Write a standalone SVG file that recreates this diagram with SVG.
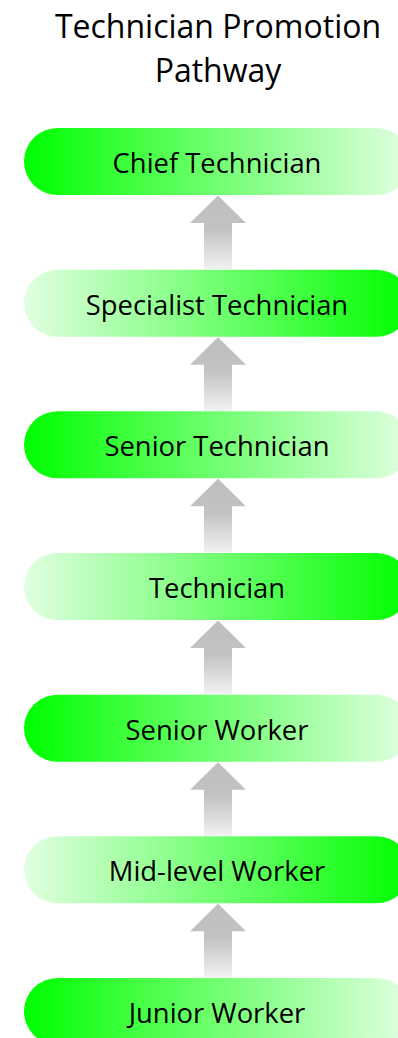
<svg xmlns="http://www.w3.org/2000/svg" width="398" height="1038" viewBox="0 0 398 1038">
<defs>
<linearGradient id="gL" x1="0" y1="0" x2="1" y2="0">
<stop offset="0" stop-color="#00ff00"/>
<stop offset="1" stop-color="#e2ffe2"/>
</linearGradient>
<linearGradient id="gR" x1="0" y1="0" x2="1" y2="0">
<stop offset="0" stop-color="#e2ffe2"/>
<stop offset="1" stop-color="#00ff00"/>
</linearGradient>
<linearGradient id="gA" x1="0" y1="0" x2="0" y2="1">
<stop offset="0" stop-color="#bfbfbf"/>
<stop offset="0.45" stop-color="#c2c2c2"/>
<stop offset="1" stop-color="#f2f2f2"/>
</linearGradient>
<path id="arrow" d="M218 0 L246 27.5 L232 27.5 L232 74 L204 74 L204 27.5 L190 27.5 Z" fill="url(#gA)"/>
</defs>
<style>
.t{font-family:"Open Sans","DejaVu Sans",sans-serif;fill:#000;text-anchor:middle}
.n{font-size:27.4px}
.h{font-size:32px}
</style>
<g id="title">
<text class="t h" x="218" y="38">Technician Promotion</text>
<text class="t h" x="218" y="82">Pathway</text>
</g>
<g id="connectors">
<use href="#arrow" y="195.5"/>
<use href="#arrow" y="337.2"/>
<use href="#arrow" y="478.8"/>
<use href="#arrow" y="620.5"/>
<use href="#arrow" y="762.2"/>
<use href="#arrow" y="903.8"/>
</g>
<g id="chief">
<rect x="24" y="128" width="386" height="67" rx="33.5" fill="url(#gL)"/>
<text class="t n" x="217" y="173">Chief Technician</text>
</g>
<g id="specialist">
<rect x="24" y="269.7" width="386" height="67" rx="33.5" fill="url(#gR)"/>
<text class="t n" x="217" y="314.7">Specialist Technician</text>
</g>
<g id="senior-technician">
<rect x="24" y="411.3" width="386" height="67" rx="33.5" fill="url(#gL)"/>
<text class="t n" x="217" y="456.3">Senior Technician</text>
</g>
<g id="technician">
<rect x="24" y="553" width="386" height="67" rx="33.5" fill="url(#gR)"/>
<text class="t n" x="217" y="598">Technician</text>
</g>
<g id="senior-worker">
<rect x="24" y="694.7" width="386" height="67" rx="33.5" fill="url(#gL)"/>
<text class="t n" x="217" y="739.7">Senior Worker</text>
</g>
<g id="mid-level-worker">
<rect x="24" y="836.3" width="386" height="67" rx="33.5" fill="url(#gR)"/>
<text class="t n" x="217" y="881.3">Mid-level Worker</text>
</g>
<g id="junior-worker">
<rect x="24" y="978" width="386" height="67" rx="33.5" fill="url(#gL)"/>
<text class="t n" x="217" y="1023">Junior Worker</text>
</g>
</svg>
